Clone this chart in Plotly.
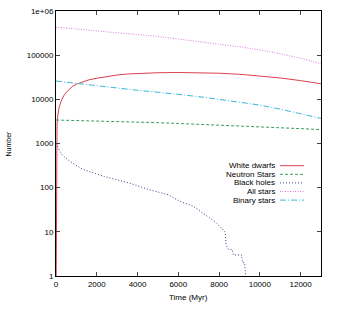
import plotly.graph_objects as go

# ---- data ----
t_all = [0, 1000, 2000, 3000, 4000, 5000, 6000, 7000, 8000, 9000, 10000, 11000, 12000, 13000]
all_stars = [430000, 390000, 355000, 325000, 295000, 265000, 232000, 205000, 180000, 155000, 131000, 108000, 85000, 64000]

t_wd = [10, 20, 30, 50, 70, 100, 150, 250, 400, 600, 800, 1000, 1300, 1600, 2000, 2500, 3000, 3500, 4000, 5000, 6000, 7000, 8000, 9000, 10000, 11000, 12000, 13000]
white_dwarfs = [1, 50, 1300, 2500, 3800, 5000, 6500, 9000, 12500, 16000, 19500, 22000, 25000, 27500, 30000, 33000, 35500, 37500, 38800, 40000, 40500, 40000, 39000, 37000, 34000, 30500, 26500, 22500]

t_ns = [10, 1000, 2000, 3000, 4000, 5000, 6000, 7000, 8000, 9000, 10000, 11000, 12000, 13000]
neutron_stars = [3400, 3330, 3250, 3160, 3060, 2960, 2840, 2730, 2620, 2500, 2390, 2280, 2170, 2060]

t_bin = [0, 1000, 2000, 3000, 4000, 5000, 6000, 7000, 8000, 9000, 10000, 11000, 12000, 13000]
binary_stars = [26000, 23000, 20500, 17800, 16000, 14500, 13000, 11500, 10000, 8700, 7400, 6000, 4800, 3700]

t_bh = [30, 115, 300, 690, 1340, 2370, 3630, 4610, 5510, 6080, 6730, 7230, 7800, 8290, 8350, 8460, 8650, 8700, 8800, 9100, 9150, 9250, 9300]
black_holes = [1000, 780, 550, 390, 257, 179, 126, 89, 69, 49, 38, 26, 17, 10, 5, 4, 4, 3, 3, 3, 2, 2, 1]

y_tickvals = [1, 10, 100, 1000, 10000, 100000, 1000000]
y_ticktext = ["1", "10", "100", "1000", "10000", "100000", "1e+06"]
x_tickvals = [0, 2000, 4000, 6000, 8000, 10000, 12000]

series = [
    ("White dwarfs", t_wd, white_dwarfs, "#d8414f", "solid"),
    ("Neutron Stars", t_ns, neutron_stars, "#3a9a62", "3px,2px"),
    ("Black holes", t_bh, black_holes, "#3c3c88", "1px,2px"),
    ("All stars", t_all, all_stars, "#e07ae0", "1px,1.5px"),
    ("Binary stars", t_bin, binary_stars, "#3ab8d8", "6px,2px,1px,2px"),
]

FONT = "Liberation Sans Narrow, Arial Narrow, Liberation Sans, sans-serif"

fig = go.Figure()
for name, t, v, c, d in series:
    fig.add_trace(go.Scatter(x=t, y=v, mode="lines", name=name,
                             line=dict(color=c, width=1, dash=d), showlegend=False))

# manual gnuplot-style legend (text right-aligned, sample to its right)
annotations = []
shapes = []
for i, (name, t, v, c, d) in enumerate(series):
    yp = 165.7 + i * 8.6
    yf = 1 - (yp - 11) / 265
    annotations.append(dict(x=(276 - 56) / 265, y=yf, xref="paper", yref="paper",
                            text=name, showarrow=False, xanchor="right", yanchor="middle",
                            xshift=1,
                            font=dict(family=FONT, size=8, color="black")))
    shapes.append(dict(type="line", xref="paper", yref="paper",
                       x0=(280 - 56) / 265, x1=(304 - 56) / 265, y0=yf, y1=yf,
                       line=dict(color=c, width=1, dash=d)))

annotations.append(dict(x=0.5, y=-0.056, xref="paper", yref="paper", text="Time (Myr)",
                        showarrow=False, yanchor="top", font=dict(family=FONT, size=8, color="black")))
annotations.append(dict(x=-48 / 265, y=0.5, xref="paper", yref="paper", text="Number",
                        showarrow=False, textangle=-90, xanchor="center",
                        font=dict(family=FONT, size=7, color="black")))

fig.update_layout(
    width=337, height=310,
    margin=dict(l=56, r=16, t=11, b=34),
    paper_bgcolor="white", plot_bgcolor="white",
    font=dict(family=FONT, size=7, color="black"),
    annotations=annotations, shapes=shapes,
    xaxis=dict(range=[0, 13000], tickvals=x_tickvals, tickformat="d", ticks="inside", ticklen=4,
               showline=True, linecolor="black", linewidth=1, mirror="ticks",
               showgrid=False, zeroline=False, automargin=False,
               tickfont=dict(family=FONT, size=8)),
    yaxis=dict(type="log", range=[0, 6], tickvals=y_tickvals, ticktext=y_ticktext,
               ticks="inside", ticklen=4, showline=True, linecolor="black", linewidth=1,
               mirror="ticks", showgrid=False, zeroline=False, automargin=False,
               tickfont=dict(family=FONT, size=8)),
)

fig.write_html("out.html", config={"displayModeBar": False},
               post_script="document.body.style.margin='0';")
